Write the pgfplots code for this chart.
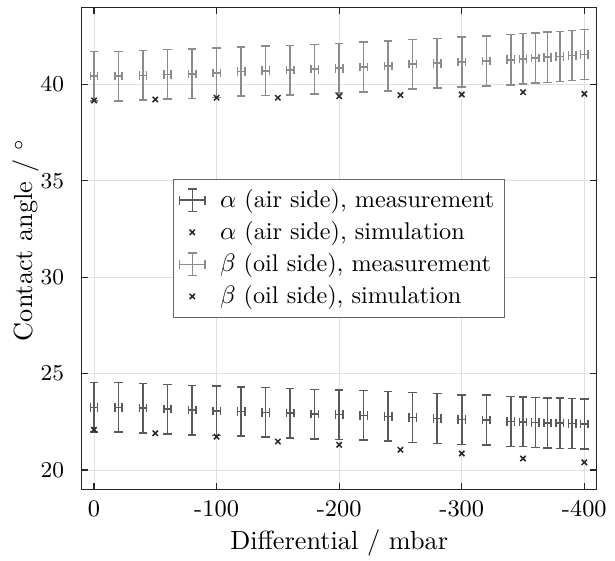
\documentclass[border=0pt]{standalone}
\usepackage{pgfplots}
\usepackage{pgfplotstable}
\pgfplotsset{compat=1.18}
\definecolor{alphacol}{RGB}{90,90,90}
\definecolor{betacol}{RGB}{140,140,140}
\definecolor{simcol}{RGB}{40,40,40}
\definecolor{axiscol}{RGB}{38,38,38}
\definecolor{gridcol}{RGB}{224,224,224}

\pgfplotsset{
  measleg/.style={legend image code/.code={
    \draw[##1] (0pt,0pt) -- (10pt,0pt);
    \draw[##1] (0pt,-1.7pt) -- (0pt,1.7pt);
    \draw[##1] (10pt,-1.7pt) -- (10pt,1.7pt);
    \draw[##1] (5pt,-4.5pt) -- (5pt,4.5pt);
    \draw[##1] (3.3pt,-4.5pt) -- (6.7pt,-4.5pt);
    \draw[##1] (3.3pt,4.5pt) -- (6.7pt,4.5pt);
    \path[draw=none, fill=none] (14pt,0pt) circle (0pt);}},
  simleg/.style={legend image code/.code={
    \draw[##1] plot coordinates {(5pt,0pt)};
    \path[draw=none, fill=none] (14pt,0pt) circle (0pt);}},
}

\pgfplotstableread{
x y ey ex
0 23.25 1.28 3
-20 23.25 1.28 3
-40 23.21 1.28 3
-60 23.16 1.28 3
-80 23.11 1.28 3
-100 23.07 1.28 3
-120 23.04 1.28 3
-140 22.99 1.28 3
-160 22.95 1.28 3
-180 22.90 1.28 3
-200 22.87 1.28 3
-220 22.84 1.28 3
-240 22.79 1.29 3
-260 22.73 1.29 3
-280 22.68 1.29 3
-300 22.61 1.29 3
-320 22.59 1.29 3
-340 22.52 1.29 3
-350 22.50 1.29 3
-360 22.47 1.29 3
-370 22.44 1.30 3
-380 22.43 1.30 3
-390 22.42 1.30 3
-400 22.38 1.30 3
}\alphameas

\pgfplotstableread{
x y
0 22.09
-50 21.91
-100 21.73
-150 21.48
-200 21.31
-250 21.05
-300 20.86
-350 20.60
-400 20.40
}\alphasim

\pgfplotstableread{
x y ey ex
0 40.43 1.28 3
-20 40.43 1.28 3
-40 40.47 1.28 3
-60 40.52 1.28 3
-80 40.55 1.28 3
-100 40.60 1.28 3
-120 40.67 1.28 3
-140 40.71 1.28 3
-160 40.74 1.28 3
-180 40.79 1.28 3
-200 40.84 1.28 3
-220 40.91 1.29 3
-240 40.96 1.29 3
-260 41.05 1.29 3
-280 41.10 1.29 3
-300 41.17 1.29 3
-320 41.22 1.29 3
-340 41.28 1.30 3
-350 41.33 1.30 3
-360 41.38 1.30 3
-370 41.41 1.30 3
-380 41.45 1.30 3
-390 41.50 1.30 3
-400 41.55 1.30 3
}\betameas

\pgfplotstableread{
x y
0 39.17
-50 39.22
-100 39.31
-150 39.31
-200 39.39
-250 39.45
-300 39.48
-350 39.60
-400 39.51
}\betasim

\begin{document}
\begin{tikzpicture}
\begin{axis}[
  scale only axis,
  width=204pt, height=191pt,
  x dir=reverse,
  xmin=-410, xmax=10,
  ymin=19, ymax=44,
  xtick={-400,-300,-200,-100,0},
  xticklabels={-400,-300,-200,-100,0},
  ytick={20,25,30,35,40},
  tick align=inside,
  xtick pos=both, ytick pos=both,
  major tick length=2.5pt,
  grid=major,
  grid style={gridcol, line width=0.4pt},
  axis line style={axiscol, line width=0.5pt},
  tick style={axiscol, line width=0.5pt},
  tick label style={font=\fontsize{9.4}{11}\selectfont},
  yticklabel style={xshift=-3.5pt},
  xticklabel style={yshift=-1pt},
  xlabel={Differential / mbar},
  ylabel={Contact angle / $^\circ$},
  label style={font=\fontsize{10.4}{12.5}\selectfont},
  xlabel style={yshift=2pt},
  ylabel style={at={(axis description cs:-0.109,0.517)}, anchor=center},
  legend style={at={(0.5,0.5)}, anchor=center, draw=axiscol!70, fill=white,
    line width=0.5pt, cells={anchor=west}, font=\fontsize{9.6}{12}\selectfont, inner sep=2pt},
  legend cell align=left,
]
\addplot[draw=none, mark=none, forget plot,
  error bars/.cd, y dir=both, y explicit, x dir=both, x explicit,
  error mark options={rotate=90, mark size=1.7pt, draw=alphacol, line width=0.6pt},
  error bar style={draw=alphacol, line width=0.6pt}]
  table[x=x, y=y, y error=ey, x error=ex] {\alphameas};
\addplot[simcol, only marks, mark=x, mark size=1.5pt, line width=0.6pt, forget plot]
  table[x=x, y=y] {\alphasim};
\addplot[draw=none, mark=none, forget plot,
  error bars/.cd, y dir=both, y explicit, x dir=both, x explicit,
  error mark options={rotate=90, mark size=1.7pt, draw=betacol, line width=0.6pt},
  error bar style={draw=betacol, line width=0.6pt}]
  table[x=x, y=y, y error=ey, x error=ex] {\betameas};
\addplot[simcol, only marks, mark=x, mark size=1.5pt, line width=0.6pt, forget plot]
  table[x=x, y=y] {\betasim};

\addlegendimage{alphacol, line width=0.6pt, measleg}
\addlegendentry{$\alpha$ (air side), measurement}
\addlegendimage{simcol, only marks, mark=x, mark size=1.5pt, line width=0.6pt, simleg}
\addlegendentry{$\alpha$ (air side), simulation}
\addlegendimage{betacol, line width=0.6pt, measleg}
\addlegendentry{$\beta$ (oil side), measurement}
\addlegendimage{simcol, only marks, mark=x, mark size=1.5pt, line width=0.6pt, simleg}
\addlegendentry{$\beta$ (oil side), simulation}
\end{axis}
\pgfresetboundingbox
\path[use as bounding box] ([xshift=-32.4pt,yshift=-28pt]current axis.south west) rectangle ([xshift=7.3pt,yshift=2.9pt]current axis.north east);
\end{tikzpicture}
\end{document}
